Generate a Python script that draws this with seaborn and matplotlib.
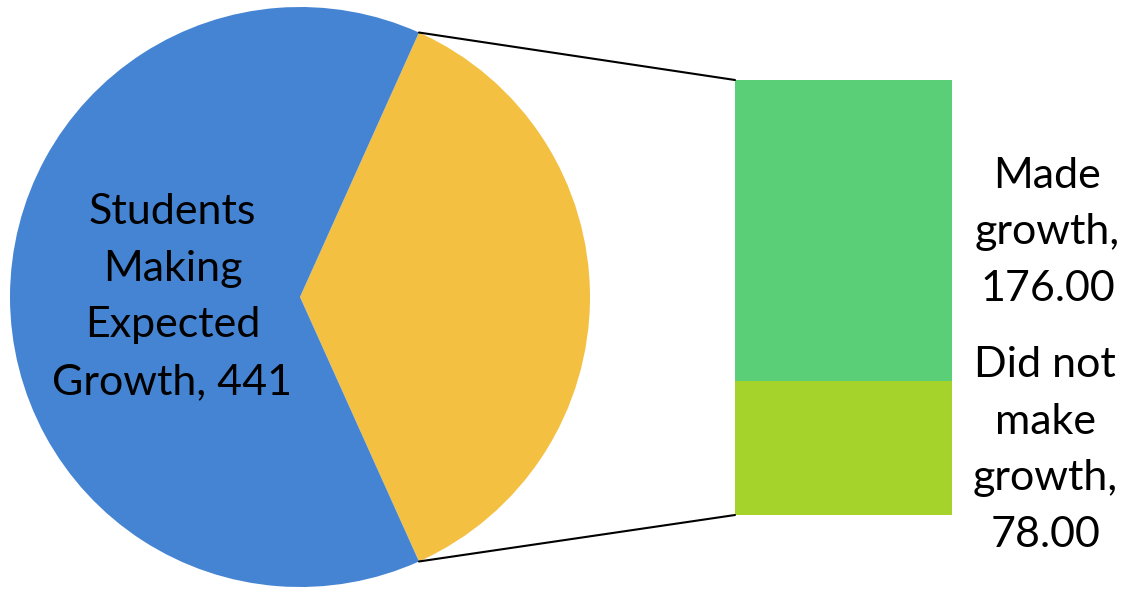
import numpy as np
import matplotlib
matplotlib.use("Agg")
import matplotlib.pyplot as plt
from matplotlib.patches import ConnectionPatch
import seaborn as sns
import pandas as pd

# Data
pie_labels = ["Students Making Expected Growth", "Other"]
pie_values = [441, 254]
bar_labels = ["Made growth", "Did not make growth"]
bar_values = [176.00, 78.00]

pie_colors = ["#4584D3", "#F4C042"]
bar_colors = ["#5BCF78", "#A5D22B"]

sns.set_theme(style="white")
plt.rcParams["font.family"] = ["Lato", "DejaVu Sans"]

W, H = 1125, 589
fig = plt.figure(figsize=(W / 100, H / 100), dpi=100)
fig.patch.set_facecolor("white")

FS = 31
LS = 1.6

# Pie axes
ax_pie = fig.add_axes([10 / W, 2 / H, 580 / W, 580 / H])
other_frac = pie_values[1] / sum(pie_values)
start = -other_frac * 360 / 2
wedges, _ = ax_pie.pie([pie_values[1], pie_values[0]],
                       colors=[pie_colors[1], pie_colors[0]],
                       startangle=start, counterclock=True, radius=1.0,
                       wedgeprops=dict(linewidth=0))
ax_pie.set_aspect("equal")
ax_pie.set_xlim(-1, 1)
ax_pie.set_ylim(-1, 1)
ax_pie.axis("off")

ax_pie.text(-0.44, 0.0, f"Students\nMaking\nExpected\nGrowth, {pie_values[0]}",
            ha="center", va="center", fontsize=FS, linespacing=LS, color="black")

# Bar axes (stacked bar-of-pie)
ax_bar = fig.add_axes([735 / W, 74 / H, 217 / W, 435 / H])
total = sum(bar_values)
df_top = pd.DataFrame({"x": ["bar"], "y": [total]})
df_bot = pd.DataFrame({"x": ["bar"], "y": [bar_values[1]]})
sns.barplot(data=df_top, x="x", y="y", color=bar_colors[0], width=1.0,
            saturation=1, ax=ax_bar, linewidth=0)
sns.barplot(data=df_bot, x="x", y="y", color=bar_colors[1], width=1.0,
            saturation=1, ax=ax_bar, linewidth=0)
ax_bar.set_xlim(-0.5, 0.5)
ax_bar.set_ylim(0, total)
ax_bar.axis("off")

# Labels for bar segments
ax_bar.text(0.94, 165,
            f"Made\ngrowth,\n{bar_values[0]:.2f}",
            ha="center", va="center", fontsize=FS, linespacing=LS, color="black")
ax_bar.text(0.93, 38,
            f"Did not\nmake\ngrowth,\n{bar_values[1]:.2f}",
            ha="center", va="center", fontsize=FS, linespacing=LS, color="black")

# Connector lines
theta1 = np.deg2rad(start)
theta2 = np.deg2rad(-start)
for theta, ybar in [(theta2, total), (theta1, 0)]:
    con = ConnectionPatch(xyA=(np.cos(theta), np.sin(theta)), coordsA=ax_pie.transData,
                          xyB=(-0.5, ybar), coordsB=ax_bar.transData,
                          color="black", linewidth=1.5)
    fig.add_artist(con)

fig.savefig("out.png", dpi=100, facecolor="white")
